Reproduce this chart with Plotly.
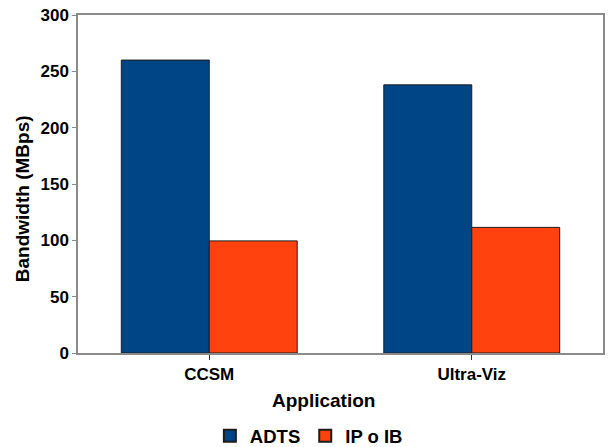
import plotly.graph_objects as go

categories = ["CCSM", "Ultra-Viz"]
adts = [260, 238]
ipoib = [99.5, 111.5]
series_names = ["ADTS", "IP o IB"]
y_ticks = [0, 50, 100, 150, 200, 250, 300]

FONT = "Liberation Sans, Arial, sans-serif"

fig = go.Figure()
fig.add_trace(go.Bar(x=categories, y=adts, name=series_names[0],
                     marker=dict(color="#004586", line=dict(color="#1c1c1c", width=1))))
fig.add_trace(go.Bar(x=categories, y=ipoib, name=series_names[1],
                     marker=dict(color="#ff420e", line=dict(color="#1c1c1c", width=1))))

fig.update_layout(
    width=608, height=447,
    margin=dict(l=78, r=3, t=15, b=94),
    paper_bgcolor="white", plot_bgcolor="white",
    barmode="group", bargap=0.33, bargroupgap=0,
    font=dict(family=FONT, color="#000000"),
    showlegend=True,
    legend=dict(orientation="h", xref="container", yref="container",
                x=0.508, xanchor="center", y=0.024, yanchor="middle",
                font=dict(size=18.5, family=FONT, weight="bold"),
                itemsizing="constant", traceorder="normal",
                itemwidth=30),
)
fig.update_xaxes(
    showline=True, linecolor="#8a8a8a", linewidth=1.5, mirror=True,
    ticks="outside", ticklen=5, tickcolor="#333333",
    tickfont=dict(size=17, family=FONT, weight="bold"),
    showgrid=False,
)
fig.update_yaxes(
    range=[0, 300], tickvals=y_ticks,
    showline=True, linecolor="#8a8a8a", linewidth=1.5, mirror=True,
    ticks="outside", ticklen=4, tickcolor="#8a8a8a",
    tickfont=dict(size=17, family=FONT, weight="bold"),
    showgrid=False, zeroline=False,
)
fig.add_annotation(text="Application", xref="paper", yref="paper",
                   x=(324.5 - 78) / 527, y=-(400 - 353) / 338,
                   xanchor="center", yanchor="middle", showarrow=False,
                   font=dict(size=19, family=FONT, weight="bold"))
fig.add_annotation(text="Bandwidth (MBps)", xref="paper", yref="paper",
                   x=-(78 - 22.5) / 527, y=(353 - 198.5) / 338,
                   xanchor="center", yanchor="middle", showarrow=False, textangle=-90,
                   font=dict(size=19, family=FONT, weight="bold"))

fig.write_html("out.html", config={"displayModeBar": False},
               post_script="document.body.style.margin='0';document.body.style.padding='0';")
